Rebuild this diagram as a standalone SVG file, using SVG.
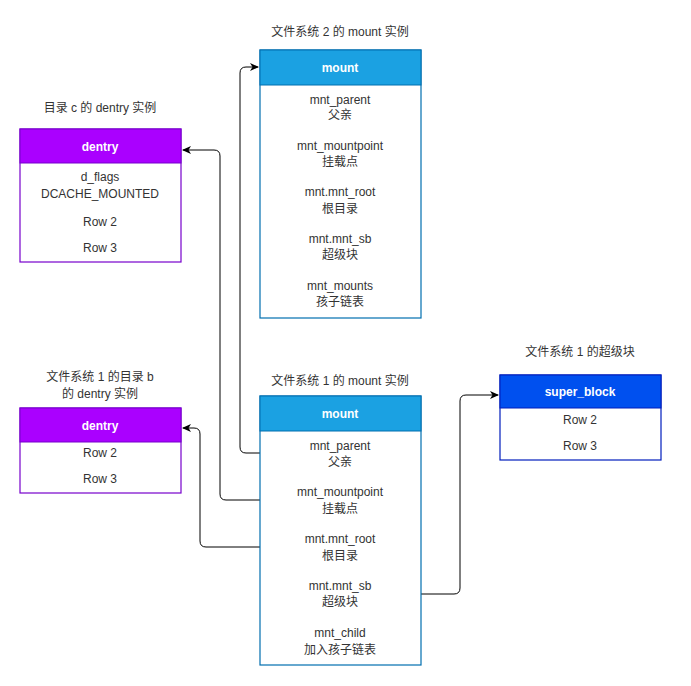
<svg xmlns="http://www.w3.org/2000/svg" width="691" height="686" viewBox="0 0 691 686">
<style>
text{font-family:"Liberation Sans","Noto Sans CJK SC",sans-serif;font-size:12px;text-anchor:middle;fill:#333}
.h{fill:#fff;font-weight:bold}
.box{fill:#fff;stroke-width:1.2}
.c{fill:none;stroke:#000;stroke-width:1;marker-end:url(#a)}
</style>
<defs><marker id="a" markerWidth="10" markerHeight="10" refX="8" refY="5" orient="auto" markerUnits="userSpaceOnUse"><path d="M0,1 L9,5 L0,9 L2.5,5 Z" fill="#000"/></marker></defs>
<rect width="691" height="686" fill="#fff"/>
<g id="connectors">
<path class="c" d="M260,453 H246 Q240,453 240,447 V73 Q240,67 246,67 H258"/>
<path class="c" d="M260,500 H226 Q220,500 220,494 V156 Q220,150 214,150 H183"/>
<path class="c" d="M260,547 H206 Q200,547 200,541 V434 Q200,428 194,428 H183"/>
<path class="c" d="M421,594 H454 Q460,594 460,588 V401 Q460,395 466,395 H498"/>
</g>
<g id="mount2">
<text x="340" y="36">文件系统 2 的 mount 实例</text>
<rect class="box" x="260" y="50" width="161" height="268" stroke="#006EAF"/>
<rect x="260" y="50" width="161" height="35" fill="#1BA1E2" stroke="#006EAF"/>
<text class="h" x="340" y="72">mount</text>
<text x="340" y="104">mnt_parent</text><text x="340" y="119">父亲</text>
<text x="340" y="150">mnt_mountpoint</text><text x="340" y="166">挂载点</text>
<text x="340" y="196">mnt.mnt_root</text><text x="340" y="213">根目录</text>
<text x="340" y="243">mnt.mnt_sb</text><text x="340" y="259">超级块</text>
<text x="340" y="290">mnt_mounts</text><text x="340" y="306">孩子链表</text>
</g>
<g id="dentry_c">
<text x="100" y="112">目录 c 的 dentry 实例</text>
<rect class="box" x="20" y="129" width="161" height="133" stroke="#7700CC"/>
<rect x="20" y="129" width="161" height="34" fill="#AA00FF" stroke="#7700CC"/>
<text class="h" x="100" y="151">dentry</text>
<text x="100" y="181">d_flags</text><text x="100" y="198">DCACHE_MOUNTED</text>
<text x="100" y="226">Row 2</text><text x="100" y="252">Row 3</text>
</g>
<g id="dentry_b">
<text x="100" y="381">文件系统 1 的目录 b</text><text x="100" y="398">的 dentry 实例</text>
<rect class="box" x="20" y="408" width="161" height="85" stroke="#7700CC"/>
<rect x="20" y="408" width="161" height="34" fill="#AA00FF" stroke="#7700CC"/>
<text class="h" x="100" y="430">dentry</text>
<text x="100" y="457">Row 2</text><text x="100" y="483">Row 3</text>
</g>
<g id="mount1">
<text x="340" y="385">文件系统 1 的 mount 实例</text>
<rect class="box" x="260" y="396" width="161" height="269" stroke="#006EAF"/>
<rect x="260" y="396" width="161" height="35" fill="#1BA1E2" stroke="#006EAF"/>
<text class="h" x="340" y="418">mount</text>
<text x="340" y="450">mnt_parent</text><text x="340" y="466">父亲</text>
<text x="340" y="496">mnt_mountpoint</text><text x="340" y="513">挂载点</text>
<text x="340" y="543">mnt.mnt_root</text><text x="340" y="560">根目录</text>
<text x="340" y="590">mnt.mnt_sb</text><text x="340" y="606">超级块</text>
<text x="340" y="637">mnt_child</text><text x="340" y="654">加入孩子链表</text>
</g>
<g id="super_block">
<text x="580" y="356">文件系统 1 的超级块</text>
<rect class="box" x="500" y="375" width="161" height="85" stroke="#001DBC"/>
<rect x="500" y="375" width="161" height="33" fill="#0050EF" stroke="#001DBC"/>
<text class="h" x="580" y="396">super_block</text>
<text x="580" y="424">Row 2</text><text x="580" y="450">Row 3</text>
</g>
</svg>
